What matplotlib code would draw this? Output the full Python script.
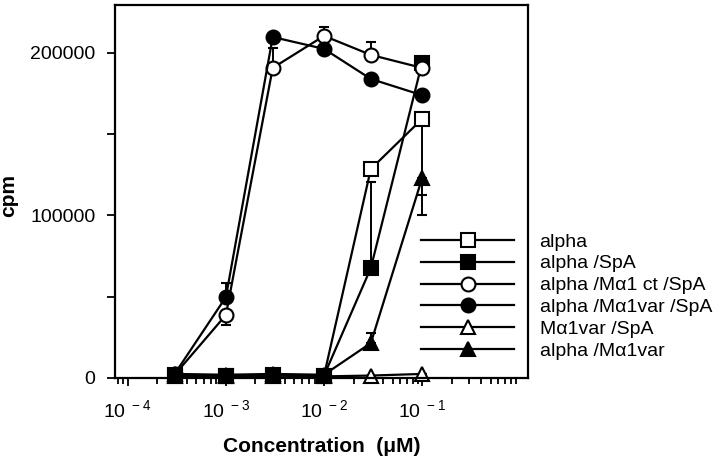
import matplotlib
matplotlib.use('Agg')
import matplotlib.pyplot as plt
from matplotlib.ticker import MultipleLocator, FixedLocator, NullFormatter

plt.rcParams['font.family'] = ['Liberation Sans', 'DejaVu Sans']

# Концентрации (мкМ)
conc = [3e-4, 1e-3, 3e-3, 1e-2, 3e-2, 1e-1]

# Значения cpm по сериям
alpha = [1500, 1000, 1500, 1500, 128600, 159400]
alpha_spa = [2000, 1500, 2000, 1500, 67700, 194000]
alpha_ct_spa = [2000, 38800, 190800, 210500, 198800, 190800]
alpha_var_spa = [2500, 49800, 209800, 202500, 184000, 174000]
var_spa = [1000, 1000, 1500, 1000, 1500, 2500]
alpha_var = [2500, 2000, 2500, 2000, 21500, 123000]

# Ошибки (вниз, вверх)
alpha_err = ([0, 0, 0, 0, 0, 59000], [0, 0, 0, 0, 0, 0])
alpha_spa_err = ([0, 0, 0, 0, 0, 0], [0, 0, 0, 0, 53000, 0])
alpha_ct_spa_err = ([0, 6200, 0, 0, 0, 0], [0, 0, 12000, 5500, 8000, 0])
alpha_var_spa_err = ([0, 0, 0, 0, 0, 0], [0, 8700, 0, 0, 0, 0])
var_spa_err = ([0, 0, 0, 0, 0, 0], [0, 0, 0, 0, 0, 0])
alpha_var_err = ([0, 0, 0, 0, 0, 10400], [0, 0, 0, 0, 6200, 0])

labels = ['alpha', 'alpha /SpA', 'alpha /M\u03b11 ct /SpA',
          'alpha /M\u03b11var /SpA', 'M\u03b11var /SpA', 'alpha /M\u03b11var']

series = [
    (alpha, alpha_err, 's', 'white'),
    (alpha_spa, alpha_spa_err, 's', 'black'),
    (alpha_ct_spa, alpha_ct_spa_err, 'o', 'white'),
    (alpha_var_spa, alpha_var_spa_err, 'o', 'black'),
    (var_spa, var_spa_err, '^', 'white'),
    (alpha_var, alpha_var_err, '^', 'black'),
]

fig = plt.figure(figsize=(7.2, 4.62), dpi=100)
ax = fig.add_axes([115 / 720, 84 / 462, 413 / 720, 373 / 462])

handles = []
for (vals, err, marker, face), label in zip(series, labels):
    cont = ax.errorbar(conc, vals, yerr=err, color='black', lw=1.6,
                       marker=marker, ms=10, mfc=face, mec='black', mew=1.5,
                       capsize=3.5, elinewidth=1.4, capthick=1.4,
                       clip_on=False, label=label)
    handles.append(cont[0])

ax.set_xscale('log')
ax.set_xlim(7.4e-5, 1.2)
ax.set_ylim(0, 229500)

# Подписи оси X в виде 10 -n
ax.xaxis.set_major_locator(FixedLocator([1e-4, 1e-3, 1e-2, 1e-1]))
ax.set_xticklabels([r'$\mathregular{10^{\ -4}}$', r'$\mathregular{10^{\ -3}}$',
                    r'$\mathregular{10^{\ -2}}$', r'$\mathregular{10^{\ -1}}$'])
ax.xaxis.set_minor_formatter(NullFormatter())
ax.yaxis.set_major_locator(MultipleLocator(100000))
ax.yaxis.set_minor_locator(MultipleLocator(50000))
ax.yaxis.set_major_formatter(plt.FuncFormatter(lambda v, p: '%d' % v))

ax.tick_params(which='major', direction='out', length=6, width=1.3, labelsize=14)
ax.tick_params(axis='x', which='major', pad=9)
ax.tick_params(axis='y', which='major', pad=8)
ax.tick_params(which='minor', direction='out', length=4, width=1.3)
ax.tick_params(axis='y', which='minor', length=6)
for s in ax.spines.values():
    s.set_linewidth(1.6)

ax.set_xlabel('Concentration  (\u03bcM)', fontsize=15, fontweight='bold', labelpad=12)
ax.set_ylabel('cpm', fontsize=15, fontweight='bold')
ax.yaxis.set_label_coords(-0.235, 0.49)

ax.legend(handles, labels, loc='upper left', frameon=False,
          bbox_to_anchor=(421 / 720, 229 / 462), bbox_transform=fig.transFigure,
          fontsize=14, handlelength=4.8, handletextpad=1.3,
          labelspacing=0.22, borderpad=0, borderaxespad=0)

plt.savefig('out.png', dpi=100)
